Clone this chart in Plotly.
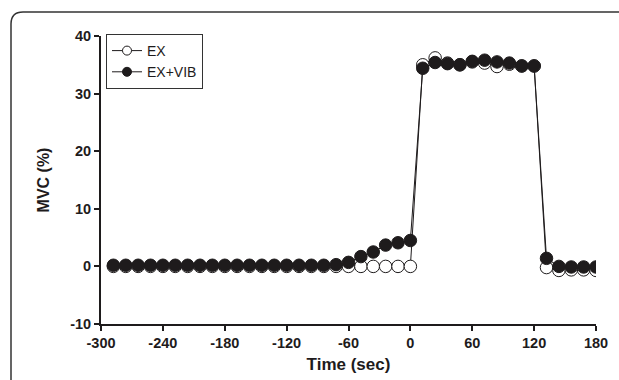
import plotly.graph_objects as go

time_s = [-288, -276, -264, -252, -240, -228, -216, -204, -192, -180,
          -168, -156, -144, -132, -120, -108, -96, -84, -72, -60,
          -48, -36, -24, -12, 0, 12, 24, 36, 48, 60,
          72, 84, 96, 108, 120, 132, 144, 156, 168, 180]

ex = [0.0, 0.0, 0.0, 0.0, 0.0, 0.0, 0.0, 0.0, 0.0, 0.0,
      0.0, 0.0, 0.0, 0.0, 0.0, 0.0, 0.0, 0.0, 0.0, 0.0,
      0.0, 0.0, 0.0, 0.0, 0.0, 35.0, 36.2, 35.3, 35.0, 35.5,
      35.3, 34.7, 35.1, 34.8, 34.8, -0.2, -0.7, -0.6, -0.6, -0.7]

ex_vib = [0.2, 0.2, 0.2, 0.2, 0.2, 0.2, 0.2, 0.2, 0.2, 0.2,
          0.2, 0.2, 0.2, 0.2, 0.2, 0.2, 0.2, 0.2, 0.3, 0.7,
          1.7, 2.5, 3.7, 4.1, 4.5, 34.4, 35.4, 35.2, 35.0, 35.6,
          35.8, 35.5, 35.3, 34.8, 34.8, 1.4, 0.0, -0.1, -0.1, -0.1]

series_names = ["EX", "EX+VIB"]
x_ticks = [-300, -240, -180, -120, -60, 0, 60, 120, 180]
y_ticks = [-10, 0, 10, 20, 30, 40]

FONT = "Liberation Sans, Arial, sans-serif"
INK = "#1e1b1c"

fig = go.Figure()
styles = [dict(fill="white"), dict(fill=INK)]
for name, vals, st in zip(series_names, [ex, ex_vib], styles):
    fig.add_trace(go.Scatter(
        x=time_s, y=vals, name=name, mode="lines+markers", showlegend=False,
        line=dict(color=INK, width=1),
        marker=dict(symbol="circle", size=12.5, color=st["fill"],
                    line=dict(color=INK, width=1)),
    ))
# legend entries (smaller symbols like the original legend)
for name, st in zip(series_names, styles):
    fig.add_trace(go.Scatter(
        x=[None], y=[None], name=name, mode="lines+markers", showlegend=True,
        line=dict(color=INK, width=1),
        marker=dict(symbol="circle", size=9, color=st["fill"],
                    line=dict(color=INK, width=1)),
    ))

L, R, T, B = 101, 23, 36, 56
W, H = 619, 380
pw, ph = W - L - R, H - T - B

def px_x(px):
    return (px - L) / pw

def px_y(py):
    return (H - B - py) / ph

x0 = px_x(11)
ytop = px_y(12)
rx = 12 / pw
ry = 12 / ph
frame = (f"M {x0},{px_y(400)} L {x0},{ytop - ry} "
         f"Q {x0},{ytop} {x0 + rx},{ytop} L {px_x(640)},{ytop}")

fig.update_layout(
    width=W, height=H,
    margin=dict(l=L, r=R, t=T, b=B, autoexpand=False),
    paper_bgcolor="white", plot_bgcolor="white",
    font=dict(family=FONT, color=INK),
    showlegend=True,
    legend=dict(
        x=px_x(106), y=px_y(34), xanchor="left", yanchor="top",
        bordercolor="#333333", borderwidth=1, bgcolor="white",
        font=dict(size=14, family=FONT, color=INK),
        tracegroupgap=0, itemwidth=30,
    ),
    shapes=[dict(type="path", xref="paper", yref="paper", path=frame,
                 line=dict(color="#333333", width=1.5))],
    xaxis=dict(
        range=[-300, 180], tickmode="array", tickvals=x_ticks,
        ticktext=[str(v) for v in x_ticks],
        showgrid=False, zeroline=False, showline=True,
        linecolor=INK, linewidth=2, ticks="outside", ticklen=5,
        tickwidth=1.5, tickcolor=INK,
        tickfont=dict(size=14.5, family=FONT, color=INK, weight="bold"),
        title=dict(text="<b>Time (sec)</b>", font=dict(size=17, family=FONT, color=INK),
                   standoff=8),
    ),
    yaxis=dict(
        range=[-10, 40], tickmode="array", tickvals=y_ticks,
        ticktext=[str(v) for v in y_ticks],
        showgrid=False, zeroline=False, showline=True,
        linecolor=INK, linewidth=2, ticks="outside", ticklen=5,
        tickwidth=1.5, tickcolor=INK,
        tickfont=dict(size=14.5, family=FONT, color=INK, weight="bold"),
        title=dict(text="<b>MVC (%)</b>", font=dict(size=16, family=FONT, color=INK),
                   standoff=17),
    ),
)

fig.write_html("out.html", config={"displayModeBar": False},
               post_script="document.body.style.margin='0';document.body.style.padding='0';")
